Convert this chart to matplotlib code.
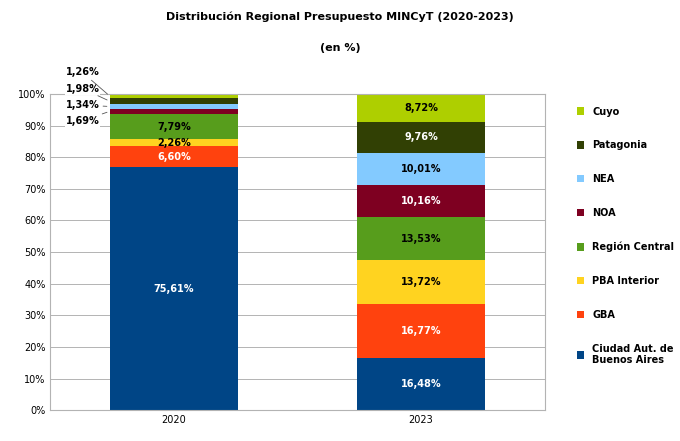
import matplotlib
matplotlib.use("Agg")
import matplotlib.pyplot as plt
import numpy as np

years = ["2020", "2023"]
regions = ["Ciudad Aut. de\nBuenos Aires", "GBA", "PBA Interior", "Región Central",
           "NOA", "NEA", "Patagonia", "Cuyo"]
values_2020 = [75.61, 6.60, 2.26, 7.79, 1.69, 1.34, 1.98, 1.26]
values_2023 = [16.48, 16.77, 13.72, 13.53, 10.16, 10.01, 9.76, 8.72]
colors = ["#004586", "#ff420e", "#ffd320", "#579d1c", "#7e0021", "#83caff", "#314004", "#aecf00"]
label_colors = ["white", "white", "black", "black", "white", "black", "white", "black"]


def fmt(v):
    return f"{v:.2f}".replace(".", ",") + "%"


data = np.array([values_2020, values_2023])
shares = data / data.sum(axis=1, keepdims=True) * 100

fig = plt.figure(figsize=(6.8, 4.41), dpi=100)
ax = fig.add_axes([0.074, 0.07, 0.727, 0.717])
x = np.arange(len(years))
width = 0.52
bottom = np.zeros(len(years))
handles = []
for i, reg in enumerate(regions):
    h = ax.bar(x, shares[:, i], width, bottom=bottom, color=colors[i], label=reg, zorder=2)
    handles.append(h)
    for j in range(len(years)):
        mid = bottom[j] + shares[j, i] / 2
        v = data[j, i]
        if j == 0 and i >= 4:
            ly = {4: 91.5, 5: 96.5, 6: 101.7, 7: 106.8}[i]
            ax.annotate(fmt(v), xy=(x[j] - width / 2, mid), xytext=(-0.37, ly),
                        fontsize=7, fontweight="bold", ha="center", va="center",
                        annotation_clip=False,
                        bbox=dict(boxstyle="square,pad=0.1", fc="white", ec="none"),
                        arrowprops=dict(arrowstyle="-", color="#555555", lw=0.6))
        else:
            ax.text(x[j], mid, fmt(v), ha="center", va="center", fontsize=7,
                    fontweight="bold", color=label_colors[i], zorder=3)
    bottom += shares[:, i]

ax.set_xlim(-0.5, 1.5)
ax.set_ylim(0, 100)
ax.set_yticks(np.arange(0, 101, 10))
ax.set_yticklabels([f"{t}%" for t in range(0, 101, 10)], fontsize=7)
ax.set_xticks(x)
ax.set_xticklabels(years, fontsize=7)
ax.yaxis.grid(True, color="#b3b3b3", lw=0.7, zorder=0)
ax.tick_params(length=0)
for s in ax.spines.values():
    s.set_color("#b3b3b3")

fig.text(0.5, 0.955, "Distribución Regional Presupuesto MINCyT (2020-2023)",
         ha="center", fontsize=8, fontweight="bold")
fig.text(0.5, 0.885, "(en %)", ha="center", fontsize=8, fontweight="bold")

leg = fig.legend(handles[::-1], regions[::-1], loc="center left",
                 bbox_to_anchor=(0.835, 0.465), frameon=False, fontsize=7,
                 handlelength=0.8, handleheight=0.8, labelspacing=2.45)
for t in leg.get_texts():
    t.set_fontweight("bold")

fig.savefig("out.png", dpi=100)
